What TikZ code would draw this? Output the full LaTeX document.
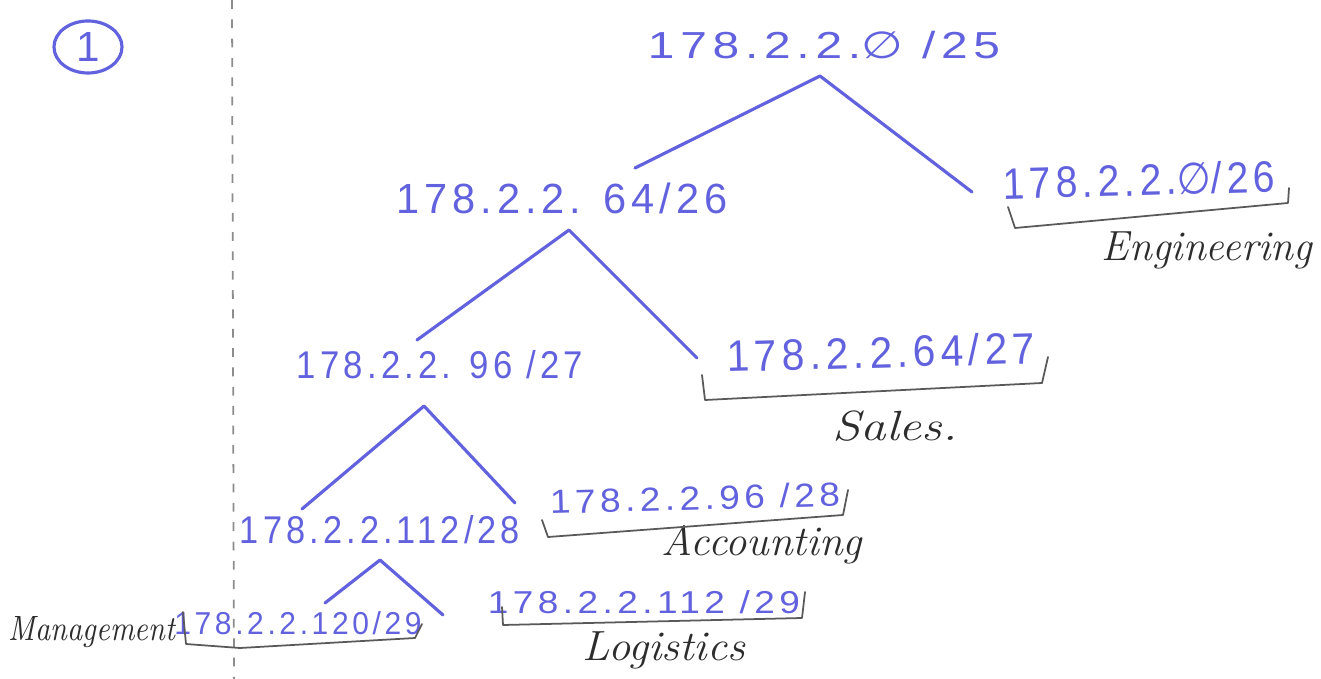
\documentclass[tikz,border=0pt]{standalone}
\usepackage{fontspec}
\usepackage{graphicx}
\usetikzlibrary{shapes.geometric}
\newfontfamily\handfont[LetterSpace=12]{Liberation Sans}
\newfontfamily\dejavufam{DejaVu Sans}
\newcommand\emptyz{{\dejavufam ∅}}
\newcommand\fitw[2]{\resizebox{#1}{\height}{#2}}
\definecolor{handblue}{RGB}{98,98,222}
\definecolor{pencil}{RGB}{45,45,45}
\begin{document}
\begin{tikzpicture}[x=0.01cm,y=-0.01cm,
  ip/.style={inner sep=0pt,text=handblue,font=\fontsize{#1}{#1}\selectfont\handfont},
  lab/.style={inner sep=0pt,text=pencil,font=\fontsize{#1}{#1}\selectfont\itshape},
  tree/.style={draw=handblue,line width=0.9pt,line cap=round,line join=round},
  brk/.style={draw=black!65,line width=0.5pt,line cap=round,line join=round},
  margin/.style={draw=black!45,line width=0.5pt,dash pattern=on 2.5pt off 3pt}]
\useasboundingbox (0,0) rectangle (1321,679);
% margin line
\coordinate (mtop) at (232,0);
\coordinate (mbot) at (234,679);
\draw[margin] (mtop) -- (mbot);
% circled number
\node[ellipse,draw=handblue,line width=0.9pt,text=handblue,minimum width=0.68cm,minimum height=0.52cm,inner sep=0pt,font=\fontsize{12}{12}\selectfont\handfont] (num) at (88,47) {1};
% address nodes
\node[ip=10.7pt] (root) at (824,45) {\fitw{3.52cm}{178.2.2.\emptyz\ /25}};
\node[ip=12pt] (n2) at (562,198) {\fitw{3.31cm}{178.2.2. 64/26}};
\node[ip=12.5pt,rotate=1.5] (eng) at (1139,180) {\fitw{2.72cm}{178.2.2.\emptyz/26}};
\node[ip=11pt] (n3) at (440,365) {\fitw{2.86cm}{178.2.2. 96 /27}};
\node[ip=12.5pt,rotate=1.5] (sales) at (881,352) {\fitw{3.08cm}{178.2.2.64/27}};
\node[ip=11pt] (n4) at (380,530) {\fitw{2.80cm}{178.2.2.112/28}};
\node[ip=9.5pt,rotate=1.5] (acct) at (695,498) {\fitw{2.90cm}{178.2.2.96 /28}};
\node[ip=9pt] (mgmt) at (298,623) {\fitw{2.47cm}{178.2.2.120/29}};
\node[ip=9pt] (log) at (644,602) {\fitw{3.12cm}{178.2.2.112 /29}};
% department labels
\node[lab=12pt] (engl) at (1207,250) {\fitw{2.10cm}{Engineering}};
\node[lab=12pt] (salesl) at (895,426) {\fitw{1.25cm}{Sales.}};
\node[lab=12pt] (acctl) at (762,545) {\fitw{2.00cm}{Accounting}};
\node[lab=12pt] (logl) at (664,650) {\fitw{1.62cm}{Logistics}};
\node[lab=10pt] (mgmtl) at (92,632) {\fitw{1.66cm}{Management}};
% tree connectors
\coordinate (a1) at (820,76);
\coordinate (a1l) at (635,168);
\coordinate (a1r) at (972,192);
\draw[tree] (a1l) -- (a1) -- (a1r);
\coordinate (a2) at (569,230);
\coordinate (a2l) at (417,340);
\coordinate (a2r) at (697,358);
\draw[tree] (a2l) -- (a2) -- (a2r);
\coordinate (a3) at (424,406);
\coordinate (a3l) at (302,509);
\coordinate (a3r) at (515,503);
\draw[tree] (a3l) -- (a3) -- (a3r);
\coordinate (a4) at (380,560);
\coordinate (a4l) at (325,603);
\coordinate (a4r) at (443,615);
\draw[tree] (a4l) -- (a4) -- (a4r);
% brackets under leaf subnets
\draw[brk] (1008,207) -- (1015,228) -- (1288,203) -- (1289,188);
\draw[brk] (702,375) -- (705,400) -- (1042,383) -- (1048,357);
\draw[brk] (542,520) -- (548,537) -- (843,515) -- (848,490);
\draw[brk] (502,607) -- (503,625) -- (802,618) -- (805,592);
\draw[brk] (183,612) -- (186,644) -- (240,648) -- (415,638) -- (422,624);
\end{tikzpicture}
\end{document}
